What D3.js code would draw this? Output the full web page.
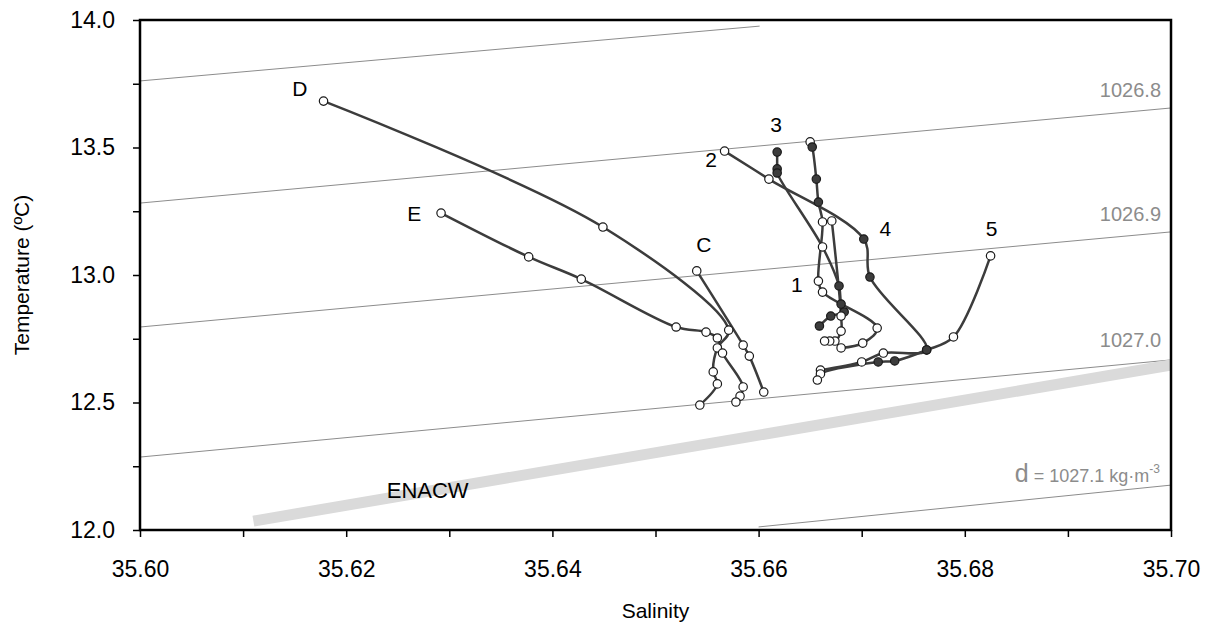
<!DOCTYPE html>
<html>
<head>
<meta charset="utf-8">
<title>T-S diagram</title>
<script src="https://cdn.jsdelivr.net/npm/d3@7/dist/d3.min.js"></script>
<style>
  body { margin: 0; background: #fff; }
  text { font-family: "Liberation Sans", Arial, sans-serif; }
</style>
</head>
<body>
<div id="chart"></div>
<script>
// axis ticks
var xTicks = [35.60, 35.62, 35.64, 35.66, 35.68, 35.70];
var xMinor = [35.61, 35.63, 35.65, 35.67, 35.69];
var yTicks = [12.0, 12.5, 13.0, 13.5, 14.0];
var yMinor = [12.25, 12.75, 13.25, 13.75];

// isopycnals (salinity, temperature end points)
var isoNames = ["1026.7", "1026.8", "1026.9", "1027.0", "1027.1"];
var isoS = [[35.60, 35.6601], [35.60, 35.70], [35.60, 35.70], [35.60, 35.70], [35.66, 35.70]];
var isoT = [[13.761, 13.976], [13.282, 13.655], [12.796, 13.169], [12.286, 12.667], [12.012, 12.176]];

// ENACW reference band
var enacwS = [35.611, 35.70];
var enacwT = [12.035, 12.647];

// profiles: salinity, temperature, filled marker flag
var profNames = ["D", "E", "C", "2", "5", "3", "4", "1"];
var profS = [
  [35.6178, 35.6449, 35.6571, 35.6560, 35.6556, 35.6560, 35.6543],
  [35.6292, 35.6377, 35.6428, 35.6520, 35.6549, 35.6560, 35.6565, 35.6585, 35.6582, 35.6578],
  [35.6540, 35.6585, 35.6591, 35.6605],
  [35.6567, 35.6610, 35.6702, 35.6708, 35.6763, 35.6721, 35.6700, 35.6660],
  [35.6825, 35.6789, 35.6763, 35.6732, 35.6716, 35.6660, 35.6657],
  [35.6618, 35.6618, 35.6618, 35.6662, 35.6678, 35.6680, 35.6683, 35.6670, 35.6659],
  [35.6650, 35.6652, 35.6656, 35.6658, 35.6662, 35.6658, 35.6662, 35.6715, 35.6701, 35.6680],
  [35.6671, 35.6680, 35.6680, 35.6674, 35.6669, 35.6664]
];
var profT = [
  [13.682, 13.188, 12.784, 12.714, 12.620, 12.573, 12.490],
  [13.243, 13.071, 12.984, 12.796, 12.776, 12.753, 12.694, 12.561, 12.525, 12.502],
  [13.016, 12.725, 12.682, 12.541],
  [13.486, 13.376, 13.141, 12.992, 12.706, 12.694, 12.659, 12.627],
  [13.075, 12.757, 12.706, 12.663, 12.659, 12.612, 12.588],
  [13.482, 13.416, 13.400, 13.110, 12.957, 12.886, 12.855, 12.839, 12.800],
  [13.522, 13.502, 13.376, 13.286, 13.208, 12.976, 12.933, 12.792, 12.733, 12.714],
  [13.212, 12.839, 12.780, 12.741, 12.741, 12.741]
];
var profFill = [
  [0, 0, 0, 0, 0, 0, 0],
  [0, 0, 0, 0, 0, 0, 0, 0, 0, 0],
  [0, 0, 0, 0],
  [0, 0, 1, 1, 1, 0, 0, 0],
  [0, 0, 1, 1, 1, 0, 0],
  [1, 1, 1, 0, 1, 1, 1, 1, 1],
  [0, 1, 1, 1, 0, 0, 0, 0, 0, 0],
  [0, 0, 0, 0, 0, 0]
];

// profile labels
var labelText = ["D", "E", "C", "2", "3", "4", "5", "1"];
var labelS = [35.6155, 35.6266, 35.6547, 35.6554, 35.6617, 35.6723, 35.6826, 35.6637];
var labelT = [13.733, 13.243, 13.122, 13.455, 13.592, 13.184, 13.184, 12.965];

var W = 1216, H = 630;
var mLeft = 140, mRight = 1171, mTop = 20, mBottom = 530;

var svg = d3.select("#chart").append("svg")
  .attr("width", W).attr("height", H);

var x = d3.scaleLinear().domain([35.60, 35.70]).range([mLeft, mRight]);
var y = d3.scaleLinear().domain([12, 14]).range([mBottom, mTop]);

var gray = "#8c8c8c";

// isopycnal lines
var straight = d3.line().x(function(d) { return x(d[0]); }).y(function(d) { return y(d[1]); });
isoS.forEach(function(s, i) {
  var pts = s.map(function(v, j) { return [v, isoT[i][j]]; });
  svg.append("path").attr("d", straight(pts))
    .attr("fill", "none").attr("stroke", gray).attr("stroke-width", 1);
});

// ENACW band
svg.append("path")
  .attr("d", straight([[enacwS[0], enacwT[0]], [enacwS[1], enacwT[1]]]))
  .attr("stroke", "#dadada").attr("stroke-width", 11).attr("fill", "none");
svg.append("text").attr("x", x(35.6279)).attr("y", y(12.157) + 8)
  .attr("text-anchor", "middle").style("font-size", "22px").text("ENACW");

// isopycnal labels
var isoLab = [["1026.8", 13.71], ["1026.9", 13.225], ["1027.0", 12.73]];
isoLab.forEach(function(l) {
  svg.append("text").attr("x", 1161).attr("y", y(l[1]) + 3)
    .attr("text-anchor", "end").attr("fill", gray)
    .style("font-size", "20px").text(l[0]);
});
var dl = svg.append("text").attr("x", 1160).attr("y", y(12.135) - 14)
  .attr("text-anchor", "end").attr("fill", gray).style("font-size", "18px");
dl.append("tspan").style("font-size", "25px").text("d");
dl.append("tspan").text(" = 1027.1 kg\u00b7m");
dl.append("tspan").attr("dy", -9).style("font-size", "12px").text("-3");

// profiles
var smooth = d3.line().curve(d3.curveCatmullRom.alpha(0.5))
  .x(function(d) { return x(d.s); }).y(function(d) { return y(d.t); });

var profData = profS.map(function(s, i) {
  return s.map(function(v, j) { return { s: v, t: profT[i][j], f: profFill[i][j] }; });
});

svg.append("g").selectAll("path").data(profData).enter().append("path")
  .attr("d", smooth).attr("fill", "none")
  .attr("stroke", "#3c3c3c").attr("stroke-width", 2.5);

profData.forEach(function(p) {
  svg.append("g").selectAll("circle").data(p).enter().append("circle")
    .attr("cx", function(d) { return x(d.s); })
    .attr("cy", function(d) { return y(d.t); })
    .attr("r", 4.2)
    .attr("fill", function(d) { return d.f ? "#3c3c3c" : "#fff"; })
    .attr("stroke", "#1a1a1a").attr("stroke-width", 1.2);
});

labelText.forEach(function(t, i) {
  svg.append("text").attr("x", x(labelS[i])).attr("y", y(labelT[i]) + 8)
    .attr("text-anchor", "middle").style("font-size", "21px").text(t);
});

// frame
svg.append("rect").attr("x", mLeft).attr("y", mTop)
  .attr("width", mRight - mLeft).attr("height", mBottom - mTop)
  .attr("fill", "none").attr("stroke", "#000").attr("stroke-width", 2.5);

// axes
var xAxis = d3.axisBottom(x).tickValues(xTicks).tickSize(7).tickSizeOuter(0)
  .tickFormat(d3.format(".2f"));
var gx = svg.append("g").attr("transform", "translate(0," + mBottom + ")").call(xAxis);
gx.select(".domain").remove();
gx.selectAll("line").attr("stroke-width", 1.5);
gx.selectAll("text").attr("y", 0).attr("dy", 47).style("font-size", "23px")
  .style("font-family", "Liberation Sans, Arial, sans-serif");
svg.append("g").attr("transform", "translate(0," + mBottom + ")")
  .call(d3.axisBottom(x).tickValues(xMinor).tickSize(7).tickFormat(""))
  .call(function(g) { g.select(".domain").remove(); g.selectAll("line").attr("stroke-width", 1.5); });

var yAxis = d3.axisLeft(y).tickValues(yTicks).tickSize(7).tickFormat(d3.format(".1f"));
var gy = svg.append("g").attr("transform", "translate(" + mLeft + ",0)").call(yAxis);
gy.select(".domain").remove();
gy.selectAll("line").attr("stroke-width", 1.5);
gy.selectAll("text").attr("x", -25).style("font-size", "23px")
  .style("font-family", "Liberation Sans, Arial, sans-serif");
svg.append("g").attr("transform", "translate(" + mLeft + ",0)")
  .call(d3.axisLeft(y).tickValues(yMinor).tickSize(7).tickFormat(""))
  .call(function(g) { g.select(".domain").remove(); g.selectAll("line").attr("stroke-width", 1.5); });

// axis titles
svg.append("text").attr("x", (mLeft + mRight) / 2).attr("y", 618)
  .attr("text-anchor", "middle").style("font-size", "21px").text("Salinity");
svg.append("text").attr("transform", "translate(29," + ((mTop + mBottom) / 2) + ") rotate(-90)")
  .attr("text-anchor", "middle").style("font-size", "21px").text("Temperature (ºC)");
</script>
</body>
</html>
